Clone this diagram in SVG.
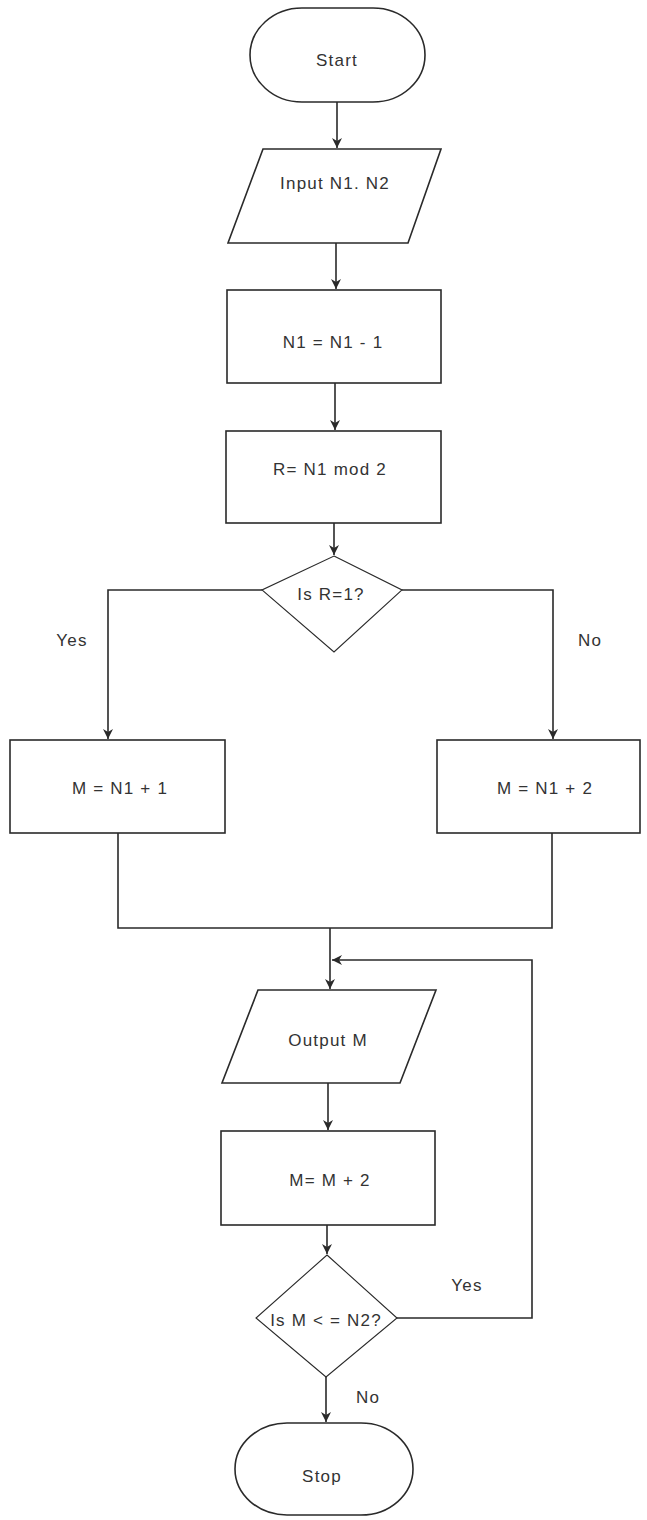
<svg xmlns="http://www.w3.org/2000/svg" width="647" height="1520" viewBox="0 0 647 1520">
<defs>
<marker id="arr" viewBox="0 0 10 10" refX="10" refY="5" markerWidth="10" markerHeight="10" markerUnits="userSpaceOnUse" orient="auto">
<path d="M0,0 L10,5 L0,10 L3,5 Z" fill="#2a2a2a"/>
</marker>
<style>
.sh{fill:#fff;stroke:#2a2a2a;stroke-width:1.6}
.dm{fill:#fff;stroke:#2a2a2a;stroke-width:1.1}
.ln{fill:none;stroke:#2a2a2a;stroke-width:1.6}
.t{font-family:"Liberation Sans",Arial,sans-serif;font-size:17px;fill:#333;text-anchor:middle;letter-spacing:1.2px}
</style>
</defs>
<rect width="647" height="1520" fill="#fff"/>
<g id="connectors">
<path class="ln" d="M337,102 V148" marker-end="url(#arr)"/>
<path class="ln" d="M336,243 V289" marker-end="url(#arr)"/>
<path class="ln" d="M335,383 V430" marker-end="url(#arr)"/>
<path class="ln" d="M334,523 V555" marker-end="url(#arr)"/>
<path class="ln" d="M262,590 H108 V739" marker-end="url(#arr)"/>
<path class="ln" d="M402,590 H553 V739" marker-end="url(#arr)"/>
<path class="ln" d="M118,833 V928 H552 V833"/>
<path class="ln" d="M330,928 V989" marker-end="url(#arr)"/>
<path class="ln" d="M397,1318 H532 V960 H332" marker-end="url(#arr)"/>
<path class="ln" d="M328,1083 V1130" marker-end="url(#arr)"/>
<path class="ln" d="M327,1225 V1254" marker-end="url(#arr)"/>
<path class="ln" d="M326,1377 V1422" marker-end="url(#arr)"/>
</g>
<g id="start">
<rect class="sh" x="250" y="8" width="175" height="94" rx="52" ry="47"/>
<text class="t" x="337" y="66">Start</text>
</g>
<g id="input">
<polygon class="sh" points="263,149 441,149 408,243 228,243"/>
<text class="t" x="335" y="189">Input N1. N2</text>
</g>
<g id="dec1">
<rect class="sh" x="227" y="290" width="214" height="93"/>
<text class="t" x="333" y="348">N1 = N1 - 1</text>
</g>
<g id="rmod">
<rect class="sh" x="226" y="431" width="215" height="92"/>
<text class="t" x="330" y="475">R= N1 mod 2</text>
</g>
<g id="isr">
<polygon class="dm" points="334,556 402,590 334,652 262,590"/>
<text class="t" x="331" y="600">Is R=1?</text>
</g>
<text class="t" x="72" y="646">Yes</text>
<text class="t" x="590" y="646">No</text>
<g id="m1">
<rect class="sh" x="10" y="740" width="215" height="93"/>
<text class="t" x="120" y="794">M = N1 + 1</text>
</g>
<g id="m2">
<rect class="sh" x="437" y="740" width="203" height="93"/>
<text class="t" x="545" y="794">M = N1 + 2</text>
</g>
<g id="output">
<polygon class="sh" points="258,990 436,990 400,1083 222,1083"/>
<text class="t" x="328" y="1046">Output M</text>
</g>
<g id="inc">
<rect class="sh" x="221" y="1131" width="214" height="94"/>
<text class="t" x="330" y="1186">M= M + 2</text>
</g>
<g id="ism">
<polygon class="dm" points="327,1255 397,1318 326,1377 256,1318"/>
<text class="t" x="326" y="1326">Is M &lt; = N2?</text>
</g>
<text class="t" x="467" y="1291">Yes</text>
<text class="t" x="368" y="1403">No</text>
<g id="stop">
<rect class="sh" x="235" y="1423" width="178" height="92" rx="52" ry="46"/>
<text class="t" x="322" y="1482">Stop</text>
</g>
</svg>
